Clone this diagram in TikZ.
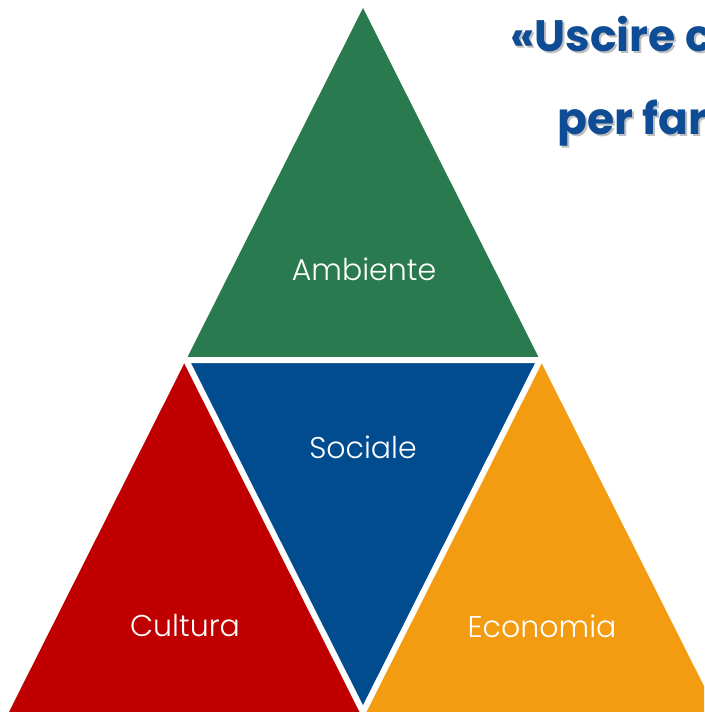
\documentclass[tikz,border=0pt]{standalone}
\usepackage{fontspec}
\newfontfamily\labelfont{Poppins Light}
\newfontfamily\titlefont{Poppins}
\definecolor{ambgreen}{RGB}{42,122,80}
\definecolor{socblue}{RGB}{0,76,143}
\definecolor{culred}{RGB}{192,0,0}
\definecolor{ecoorange}{RGB}{243,156,18}
\definecolor{titleblue}{RGB}{14,76,150}
\tikzset{
	lbl/.style={text=white,font=\labelfont\fontsize{30}{36}\selectfont,inner sep=0pt},
	ttl/.style={text=titleblue,font=\titlefont\bfseries\fontsize{44}{52}\selectfont,inner sep=0pt,anchor=base west},
	shd/.style={ttl,text=black!25}
}

\begin{document}
\begin{tikzpicture}[x=1pt,y=-1pt]
			\useasboundingbox (0,0) rectangle (704,712);
			\clip (0,0) rectangle (704,712);
			\coordinate (top) at (363,8);
			\coordinate (bl) at (9,712);
			\coordinate (br) at (717,712);
			\coordinate (ml) at (186,360);
			\coordinate (mr) at (540,360);
			\coordinate (mb) at (363,712);
			% the four triangles
			\fill[ambgreen] (top) -- (ml) -- (mr) -- cycle;
			\fill[socblue] (ml) -- (mr) -- (mb) -- cycle;
			\fill[culred] (ml) -- (bl) -- (mb) -- cycle;
			\fill[ecoorange] (mr) -- (mb) -- (br) -- cycle;
			\draw[white,line width=6pt] (ml) -- (mr) -- (mb) -- cycle;
			% labels
			\node[lbl] (amb) at (364,269) {Ambiente};
			\node[lbl] (soc) at (363,447) {Sociale};
			\node[lbl] (cul) at (185,626) {Cultura};
			\node[lbl] (eco) at (542,626) {Economia};
			% title
			\node[shd] at (512,53) {«Uscire c};
			\node[ttl] (t1) at (510,51) {«Uscire c};
			\node[shd] at (559,136) {per far};
			\node[ttl] (t2) at (557,134) {per far};
		\end{tikzpicture}
\end{document}
